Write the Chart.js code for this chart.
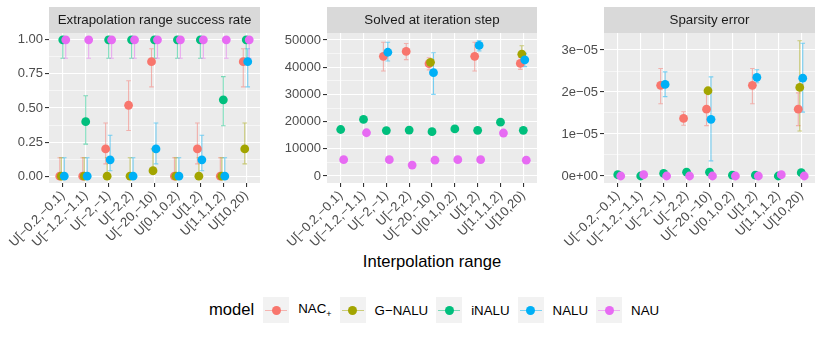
<!DOCTYPE html>
<html lang="en">
<head>
<meta charset="UTF-8" />
<title>Extrapolation results by interpolation range</title>
<script src="https://cdn.jsdelivr.net/npm/chart.js"></script>
<style>
  body { margin: 0; background: #fff; font-family: 'Liberation Sans', Arial, sans-serif; }
  #wrap { position: relative; width: 830px; height: 339px; overflow: hidden; }
  canvas { position: absolute; top: 0; }
  #xtitle {
    position: absolute; left: 49px; width: 766px; top: 253px;
    text-align: center; font-size: 16.6px; line-height: 18px; color: #000;
  }
  #legend {
    position: absolute; left: 209px; top: 297px; height: 26px;
    display: flex; align-items: center; font-size: 13.3px; color: #000;
  }
  #legend .title { font-size: 16.6px; margin-right: 9px; }
  #legend .key { position: relative; width: 26px; height: 26px; background: #F2F2F2; margin-right: 9px; }
  #legend .key .ln { position: absolute; left: 2px; right: 2px; top: 12.5px; height: 1.2px; }
  #legend .key .pt { position: absolute; left: 8.5px; top: 8.5px; width: 9px; height: 9px; border-radius: 50%; }
  #legend .lab { margin-right: 8px; }
  #legend sub { font-size: 9px; }
</style>
</head>
<body>
<div id="wrap">
  <canvas id="p1" width="270" height="250" style="left:0px"></canvas>
  <canvas id="p2" width="276" height="250" style="left:270px"></canvas>
  <canvas id="p3" width="282" height="250" style="left:548px"></canvas>
  <div id="xtitle">Interpolation range</div>
  <div id="legend"></div>
</div>

<script>
const categories = ['U[\u22120.2,\u22120.1)', 'U[\u22121.2,\u22121.1)', 'U[\u22122,\u22121)', 'U[\u22122,2)',
  'U[\u221220,\u221210)', 'U[0.1,0.2)', 'U[1,2)', 'U[1.1,1.2)', 'U[10,20)'];
const models = ['NAC<sub>+</sub>', 'G\u2212NALU', 'iNALU', 'NALU', 'NAU'];
const modelColors = ['#F8766D', '#A3A500', '#00BF7D', '#00B0F6', '#E76BF3'];
const dodgeOffsets = [-0.13, -0.065, 0, 0.065, 0.13];

// rows follow the order of models
const successMean = [
  [0, 0, 0.20, 0.52, 0.84, 0, 0.20, 0, 0.84],
  [0, 0, 0, 0, 0.04, 0, 0, 0, 0.20],
  [1, 0.40, 1, 1, 1, 1, 1, 0.56, 1],
  [0, 0, 0.12, 0, 0.20, 0, 0.12, 0, 0.84],
  [1, 1, 1, 1, 1, 1, 1, 1, 1]
];
const successLo = [
  [0, 0, 0.09, 0.335, 0.655, 0, 0.09, 0, 0.655],
  [0, 0, 0, 0, 0.012, 0, 0, 0, 0.09],
  [0.865, 0.235, 0.865, 0.865, 0.865, 0.865, 0.865, 0.37, 0.865],
  [0, 0, 0.04, 0, 0.09, 0, 0.04, 0, 0.655],
  [0.865, 0.865, 0.865, 0.865, 0.865, 0.865, 0.865, 0.865, 0.865]
];
const successHi = [
  [0.135, 0.135, 0.39, 0.70, 0.935, 0.135, 0.39, 0.135, 0.935],
  [0.135, 0.135, 0.135, 0.135, 0.20, 0.135, 0.135, 0.135, 0.39],
  [1, 0.59, 1, 1, 1, 1, 1, 0.73, 1],
  [0.135, 0.135, 0.30, 0.135, 0.39, 0.135, 0.30, 0.135, 0.935],
  [1, 1, 1, 1, 1, 1, 1, 1, 1]
];
const successTicks = [0, 0.25, 0.5, 0.75, 1];
const successLabels = ['0.00', '0.25', '0.50', '0.75', '1.00'];

const solvedMean = [
  [null, null, 44000, 45800, 41300, null, 44000, null, 41400],
  [null, null, null, null, 41800, null, null, null, 44800],
  [17100, 20800, 16700, 16900, 16300, 17300, 16800, 19800, 16800],
  [null, null, 45500, null, 38000, null, 48000, null, 42700],
  [6000, 15900, 6000, 4000, 5800, 6000, 6000, 15800, 5800]
];
const solvedLo = [
  [null, null, 38600, 42800, 39000, null, 38600, null, 39200],
  [null, null, null, null, 40900, null, null, null, 41800],
  [null, null, null, null, null, null, null, null, null],
  [null, null, 42300, null, 30000, null, 46000, null, 40200],
  [null, null, null, null, null, null, null, null, null]
];
const solvedHi = [
  [null, null, 49200, 48700, 43500, null, 49200, null, 43600],
  [null, null, null, null, 42700, null, null, null, 47900],
  [null, null, null, null, null, null, null, null, null],
  [null, null, 49200, null, 45300, null, 49800, null, 45100],
  [null, null, null, null, null, null, null, null, null]
];
const solvedTicks = [0, 10000, 20000, 30000, 40000, 50000];
const solvedLabels = ['0', '10000', '20000', '30000', '40000', '50000'];

const sparsityMean = [
  [null, null, 2.16e-5, 1.37e-5, 1.59e-5, null, 2.16e-5, null, 1.59e-5],
  [null, null, null, null, 2.03e-5, null, null, null, 2.11e-5],
  [0.03e-5, 0, 0.06e-5, 0.09e-5, 0.09e-5, 0.02e-5, 0.02e-5, 0, 0.08e-5],
  [null, null, 2.18e-5, null, 1.35e-5, null, 2.35e-5, null, 2.33e-5],
  [0, 0.03e-5, 0, 0, 0, 0, 0, 0.03e-5, 0]
];
const sparsityLo = [
  [null, null, 1.72e-5, 1.21e-5, 1.20e-5, null, 1.72e-5, null, 1.20e-5],
  [null, null, null, null, null, null, null, null, 1.07e-5],
  [null, null, null, null, null, null, null, null, null],
  [null, null, 1.89e-5, null, 0.36e-5, null, 2.22e-5, null, 1.52e-5],
  [null, null, null, null, null, null, null, null, null]
];
const sparsityHi = [
  [null, null, 2.56e-5, 1.53e-5, 1.98e-5, null, 2.56e-5, null, 1.98e-5],
  [null, null, null, null, null, null, null, null, 3.22e-5],
  [null, null, null, null, null, null, null, null, null],
  [null, null, 2.48e-5, null, 2.36e-5, null, 2.53e-5, null, 3.16e-5],
  [null, null, null, null, null, null, null, null, null]
];
const sparsityTicks = [0, 1e-5, 2e-5, 3e-5];
const sparsityLabels = ['0e+00', '1e\u221205', '2e\u221205', '3e\u221205'];

const FONT = { family: "'Liberation Sans', Arial, sans-serif", size: 13 };

function withAlpha(hex, a) {
  const n = parseInt(hex.slice(1), 16);
  return `rgba(${n >> 16},${(n >> 8) & 255},${n & 255},${a})`;
}

// grey background + strip with the facet title
const panelBg = {
  id: 'panelBg',
  beforeDraw(chart, args, opts) {
    const { ctx, chartArea: a } = chart;
    ctx.save();
    ctx.fillStyle = '#EBEBEB';
    ctx.fillRect(a.left, a.top, a.right - a.left, a.bottom - a.top);
    ctx.fillStyle = '#D9D9D9';
    ctx.fillRect(a.left, 7, a.right - a.left, a.top - 7);
    ctx.fillStyle = '#1A1A1A';
    ctx.font = "13.3px 'Liberation Sans', Arial, sans-serif";
    ctx.textAlign = 'center';
    ctx.textBaseline = 'middle';
    ctx.fillText(opts.text, (a.left + a.right) / 2, (7 + a.top) / 2 + 0.5);
    ctx.restore();
  }
};

// error bars drawn under the points
const errorBars = {
  id: 'errorBars',
  beforeDatasetsDraw(chart) {
    const { ctx, scales: { x, y } } = chart;
    const half = x.getPixelForValue(0.1) - x.getPixelForValue(0);
    ctx.save();
    ctx.lineWidth = 1.1;
    chart.data.datasets.forEach(ds => {
      ctx.strokeStyle = withAlpha(ds.backgroundColor, 0.5);
      ds.data.forEach(p => {
        if (p.lo == null || p.hi == null) return;
        const px = x.getPixelForValue(p.x);
        const y1 = y.getPixelForValue(p.lo), y2 = y.getPixelForValue(p.hi);
        ctx.beginPath();
        ctx.moveTo(px, y1); ctx.lineTo(px, y2);
        ctx.moveTo(px - half, y1); ctx.lineTo(px + half, y1);
        ctx.moveTo(px - half, y2); ctx.lineTo(px + half, y2);
        ctx.stroke();
      });
    });
    ctx.restore();
  }
};

function buildDatasets(mean, lo, hi) {
  return models.map((m, k) => {
    const pts = [];
    categories.forEach((c, i) => {
      if (mean[k][i] == null) return;
      pts.push({ x: i + dodgeOffsets[k], y: mean[k][i], lo: lo[k][i], hi: hi[k][i] });
    });
    return {
      label: m, data: pts, order: models.length - k,
      backgroundColor: modelColors[k], borderWidth: 0,
      pointRadius: 4.4, pointHoverRadius: 4.4, showLine: false
    };
  });
}

function yAxis(min, max, majors, labels, width) {
  const minors = majors.slice(1).map((v, i) => (v + majors[i]) / 2);
  const all = majors.concat(minors).sort((a, b) => a - b);
  const eps = (max - min) * 1e-6;
  const majorIndex = v => majors.findIndex(m => Math.abs(m - v) < eps);
  return {
    type: 'linear', min, max,
    afterBuildTicks: s => { s.ticks = all.map(v => ({ value: v })); },
    afterFit: s => { s.width = width; s.paddingTop = 0; s.paddingBottom = 0; },
    ticks: {
      autoSkip: false, padding: 2, color: '#4D4D4D', font: FONT,
      callback: v => { const i = majorIndex(v); return i < 0 ? '' : labels[i]; }
    },
    grid: {
      color: '#FFFFFF',
      lineWidth: c => (c.tick && majorIndex(c.tick.value) < 0) ? 0.55 : 1.1,
      tickColor: c => (c.tick && majorIndex(c.tick.value) < 0) ? 'rgba(0,0,0,0)' : '#333333',
      tickLength: 4, tickWidth: 1.1
    },
    border: { display: false }
  };
}

function xAxis() {
  return {
    type: 'linear', min: -0.6, max: 8.6,
    afterBuildTicks: s => { s.ticks = categories.map((c, i) => ({ value: i })); },
    afterFit: s => { s.height = 67; s.paddingLeft = 0; s.paddingRight = 0; },
    ticks: {
      autoSkip: false, maxRotation: 45, minRotation: 45, padding: 1,
      color: '#4D4D4D', font: FONT, callback: v => categories[v]
    },
    grid: { color: '#FFFFFF', lineWidth: 1.1, tickColor: '#333333', tickLength: 4, tickWidth: 1.1 },
    border: { display: false }
  };
}

function makePanel(id, title, mean, lo, hi, yMin, yMax, ticks, labels, yWidth, padRight) {
  return new Chart(document.getElementById(id), {
    type: 'scatter',
    data: { datasets: buildDatasets(mean, lo, hi) },
    options: {
      responsive: false, animation: false, events: [],
      layout: { padding: { top: 33, right: padRight, left: 0, bottom: 0 } },
      plugins: { legend: { display: false }, tooltip: { enabled: false }, panelBg: { text: title } },
      scales: { x: xAxis(), y: yAxis(yMin, yMax, ticks, labels, yWidth) }
    },
    plugins: [panelBg, errorBars]
  });
}

makePanel('p1', 'Extrapolation range success rate', successMean, successLo, successHi,
  -0.05, 1.05, successTicks, successLabels, 49, 10);
makePanel('p2', 'Solved at iteration step', solvedMean, solvedLo, solvedHi,
  -2574, 52574, solvedTicks, solvedLabels, 57, 9);
makePanel('p3', 'Sparsity error', sparsityMean, sparsityLo, sparsityHi,
  -0.167e-5, 3.405e-5, sparsityTicks, sparsityLabels, 56, 15);

// legend
const legend = document.getElementById('legend');
legend.innerHTML = '<span class="title">model</span>' + models.map((m, k) =>
  `<span class="key"><span class="ln" style="background:${withAlpha(modelColors[k], 0.5)}"></span>` +
  `<span class="pt" style="background:${modelColors[k]}"></span></span><span class="lab">${m}</span>`
).join('');
</script>
</body>
</html>
